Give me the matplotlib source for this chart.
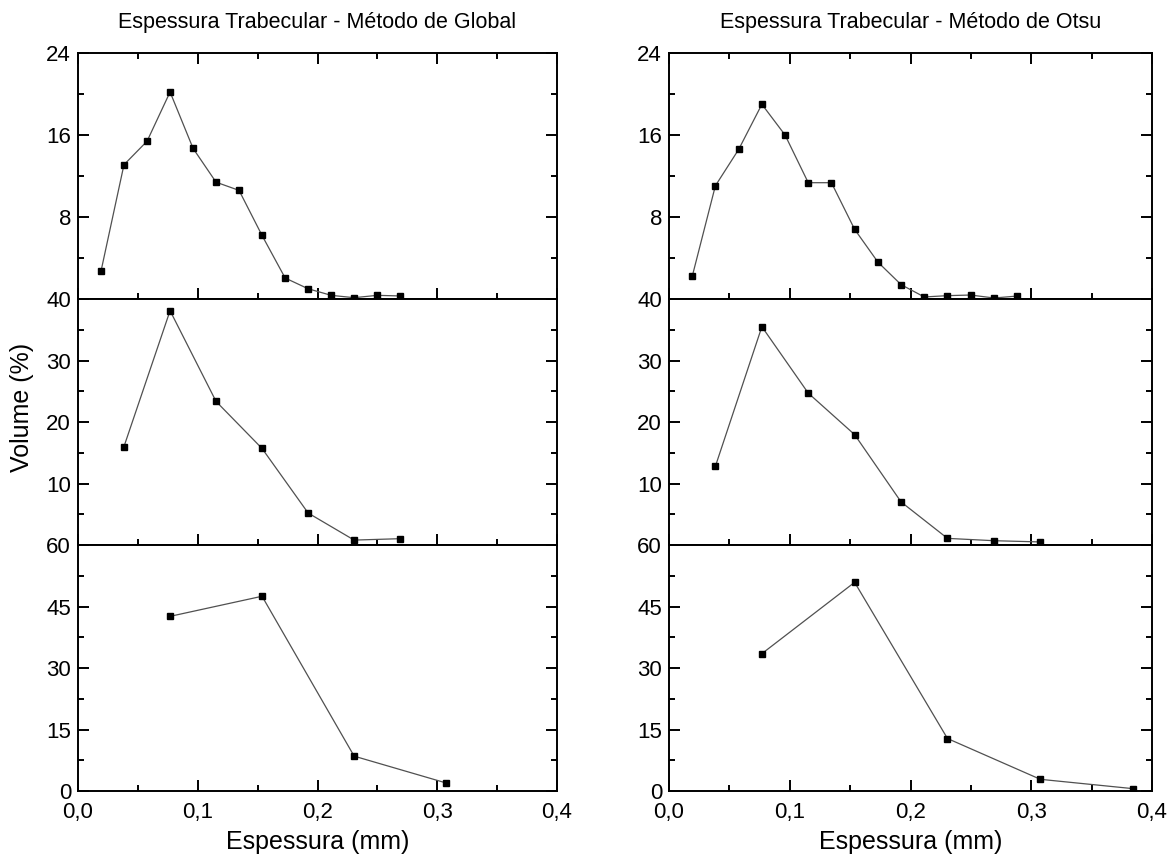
import matplotlib
matplotlib.use("Agg")
import matplotlib.pyplot as plt
from matplotlib.ticker import MultipleLocator, FuncFormatter

plt.rcParams['font.family'] = ['Liberation Sans', 'DejaVu Sans']

# espessura (mm) - three binnings
x_fine = [0.0192, 0.0384, 0.0577, 0.0769, 0.0961, 0.1153, 0.1345, 0.1537,
          0.1730, 0.1922, 0.2114, 0.2306, 0.2498, 0.2691, 0.2883]
x_mid = [0.0384, 0.0769, 0.1153, 0.1537, 0.1922, 0.2306, 0.2691, 0.3075]
x_coarse = [0.0769, 0.1537, 0.2306, 0.3075, 0.3844]

# volume (%) - Global
global_top = [2.7, 13.1, 15.4, 20.2, 14.7, 11.4, 10.6, 6.2, 2.05, 1.0, 0.36, 0.13, 0.36, 0.3]
global_mid = [16.0, 38.1, 23.35, 15.7, 5.2, 0.8, 1.03]
global_bot = [42.6, 47.5, 8.5, 1.95]

# volume (%) - Otsu
otsu_top = [2.2, 11.05, 14.6, 19.0, 16.0, 11.35, 11.35, 6.8, 3.6, 1.4, 0.2, 0.33, 0.39, 0.1, 0.29]
otsu_mid = [12.8, 35.5, 24.7, 17.95, 7.0, 1.08, 0.7, 0.5]
otsu_bot = [33.5, 50.9, 12.8, 2.85, 0.57]

titles = ["Espessura Trabecular - Método de Global",
          "Espessura Trabecular - Método de Otsu"]

fig = plt.figure(figsize=(11.69, 8.61), dpi=100)

comma = FuncFormatter(lambda v, p: f"{v:.1f}".replace(".", ","))

# (ylim, major, minor, labelled ticks)
panel_y = [(24, 8, 4, [8, 16, 24]),
           (40, 10, 5, [10, 20, 30, 40]),
           (60, 15, 7.5, [0, 15, 30, 45, 60])]

columns = [
    (0.0667, 0.4098, [(x_fine[:14], global_top), (x_mid[:7], global_mid), (x_coarse[:4], global_bot)]),
    (0.5723, 0.4132, [(x_fine, otsu_top), (x_mid, otsu_mid), (x_coarse, otsu_bot)]),
]

top, bottom = 0.9384, 0.0813
h = (top - bottom) / 3

for c, (left, width, series) in enumerate(columns):
    axes = []
    for r in range(3):
        ax = fig.add_axes([left, top - (r + 1) * h, width, h])
        xs, ys = series[r]
        ax.plot(xs, ys, '-', color='#505050', lw=0.9, marker='s',
                mfc='black', mec='black', ms=4.5)
        ymax, major, minor, labelled = panel_y[r]
        ax.set_xlim(0, 0.4)
        ax.set_ylim(0, ymax)
        ax.xaxis.set_major_locator(MultipleLocator(0.1))
        ax.xaxis.set_minor_locator(MultipleLocator(0.05))
        ax.yaxis.set_major_locator(MultipleLocator(major))
        ax.yaxis.set_minor_locator(MultipleLocator(minor))
        ax.yaxis.set_major_formatter(FuncFormatter(
            lambda v, p, lab=labelled: f"{v:g}" if any(abs(v - l) < 1e-6 for l in lab) else ""))
        ax.tick_params(which='both', direction='in', right=True, top=(r == 0),
                       labelsize=16, width=1.4)
        ax.tick_params(which='major', length=8)
        ax.tick_params(which='minor', length=4.5)
        ax.tick_params(axis='y', pad=5)
        ax.tick_params(axis='x', pad=8)
        for s in ax.spines.values():
            s.set_linewidth(1.4)
        if r < 2:
            ax.tick_params(axis='x', labelbottom=False)
        else:
            ax.xaxis.set_major_formatter(comma)
            ax.set_xlabel("Espessura (mm)", fontsize=18, labelpad=5)
        axes.append(ax)
    axes[0].set_title(titles[c], fontsize=15.5, pad=18)
    if c == 0:
        axes[1].set_ylabel("Volume (%)", fontsize=18)
        axes[1].yaxis.set_label_coords(-0.092, 0.56)

fig.savefig("out.png", dpi=100)
